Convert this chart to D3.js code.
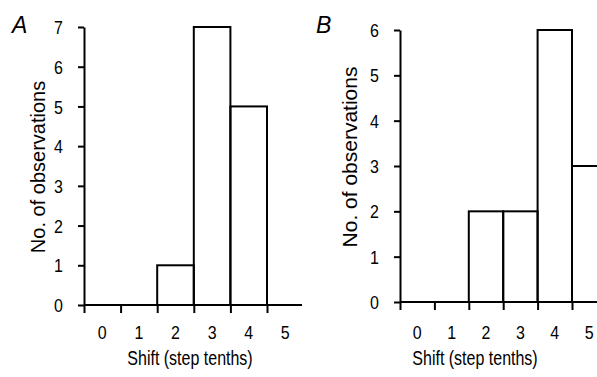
<!DOCTYPE html>
<html>
<head>
<meta charset="utf-8">
<script src="https://cdn.jsdelivr.net/npm/d3@7"></script>
<style>
  body { margin: 0; background: #fff; }
  text { font-family: "Liberation Sans", Arial, sans-serif; fill: #000; }
</style>
</head>
<body>
<svg width="597" height="377"></svg>
<script>
const svg = d3.select('svg');

// data
const bins = [0, 1, 2, 3, 4, 5];
const countsA = [0, 0, 1, 7, 5, 0];
const countsB = [0, 0, 2, 2, 6, 3];
const yTicksA = [0, 1, 2, 3, 4, 5, 6, 7];
const yTicksB = [0, 1, 2, 3, 4, 5, 6];

// stretched text (the scan is taller than wide)
function label(g, x, y, str, size, anchor, sy, rotate, italic) {
  const t = g.append('text')
    .attr('transform', `translate(${x},${y}) rotate(${rotate || 0}) scale(1,${sy})`)
    .attr('text-anchor', anchor)
    .attr('font-size', size)
    .text(str);
  if (italic) t.attr('font-style', 'italic');
  return t;
}

function panel(opt) {
  const g = svg.append('g');

  const x = d3.scaleLinear().domain([-0.5, 5.5]).range([opt.x0, opt.x1]);
  const y = d3.scaleLinear().domain([0, opt.yMax]).range([opt.y0, opt.y1]);

  // bars
  g.selectAll('rect')
    .data(bins.filter(d => opt.counts[d] > 0))
    .join('rect')
    .attr('x', d => x(d - 0.5))
    .attr('y', d => y(opt.counts[d]))
    .attr('width', d => x(d + 0.5) - x(d - 0.5))
    .attr('height', d => y(0) - y(opt.counts[d]))
    .attr('fill', 'none')
    .attr('stroke', '#000')
    .attr('stroke-width', 2);

  // x axis: ticks at bin edges
  const xAxis = g.append('g')
    .attr('transform', `translate(0,${y(0)})`)
    .call(d3.axisBottom(x)
      .tickValues(bins.map(d => d - 0.5))
      .tickFormat('')
      .tickSize(8)
      .tickSizeOuter(0));
  xAxis.select('.domain').attr('d', `M${x(-0.5)},0H${opt.xEnd}`);
  xAxis.selectAll('path, line').attr('stroke', '#000').attr('stroke-width', 2);

  // x labels at bin centers
  bins.forEach(d => label(g, x(d), opt.xLabY, d, 16, 'middle', 1.15));
  label(g, opt.xTitleX, opt.xTitleY, 'Shift (step tenths)', 16, 'middle', 1.25);

  // y axis
  const yAxis = g.append('g')
    .attr('transform', `translate(${x(-0.5)},0)`)
    .call(d3.axisLeft(y)
      .tickValues(opt.yTicks)
      .tickFormat(d3.format('d'))
      .tickSize(6)
      .tickSizeOuter(0)
      .tickPadding(15));
  yAxis.selectAll('path, line').attr('stroke', '#000').attr('stroke-width', 2);
  yAxis.selectAll('.tick text')
    .attr('font-size', 16)
    .attr('font-family', '"Liberation Sans", Arial, sans-serif')
    .attr('dy', '0.36em')
    .attr('transform', 'scale(1,1.15)');

  label(g, opt.yTitleX, opt.yTitleY, 'No. of observations', opt.yTitleSize, 'middle', 1, -90);
  label(g, opt.letterX, opt.letterY, opt.letter, 23, 'start', 1, 0, true);
}

panel({
  counts: countsA, yMax: 7, yTicks: yTicksA,
  x0: 84, x1: 303.6, xEnd: 302, y0: 305, y1: 27,
  xLabY: 339, xTitleX: 190, xTitleY: 365,
  yTitleX: 45, yTitleY: 167, yTitleSize: 20,
  letter: 'A', letterX: 12, letterY: 33
});

panel({
  counts: countsB, yMax: 6, yTicks: yTicksB,
  x0: 400, x1: 606.4, xEnd: 606, y0: 302, y1: 30,
  xLabY: 339, xTitleX: 475, xTitleY: 365,
  yTitleX: 357, yTitleY: 157, yTitleSize: 21,
  letter: 'B', letterX: 316, letterY: 33
});
</script>
</body>
</html>
